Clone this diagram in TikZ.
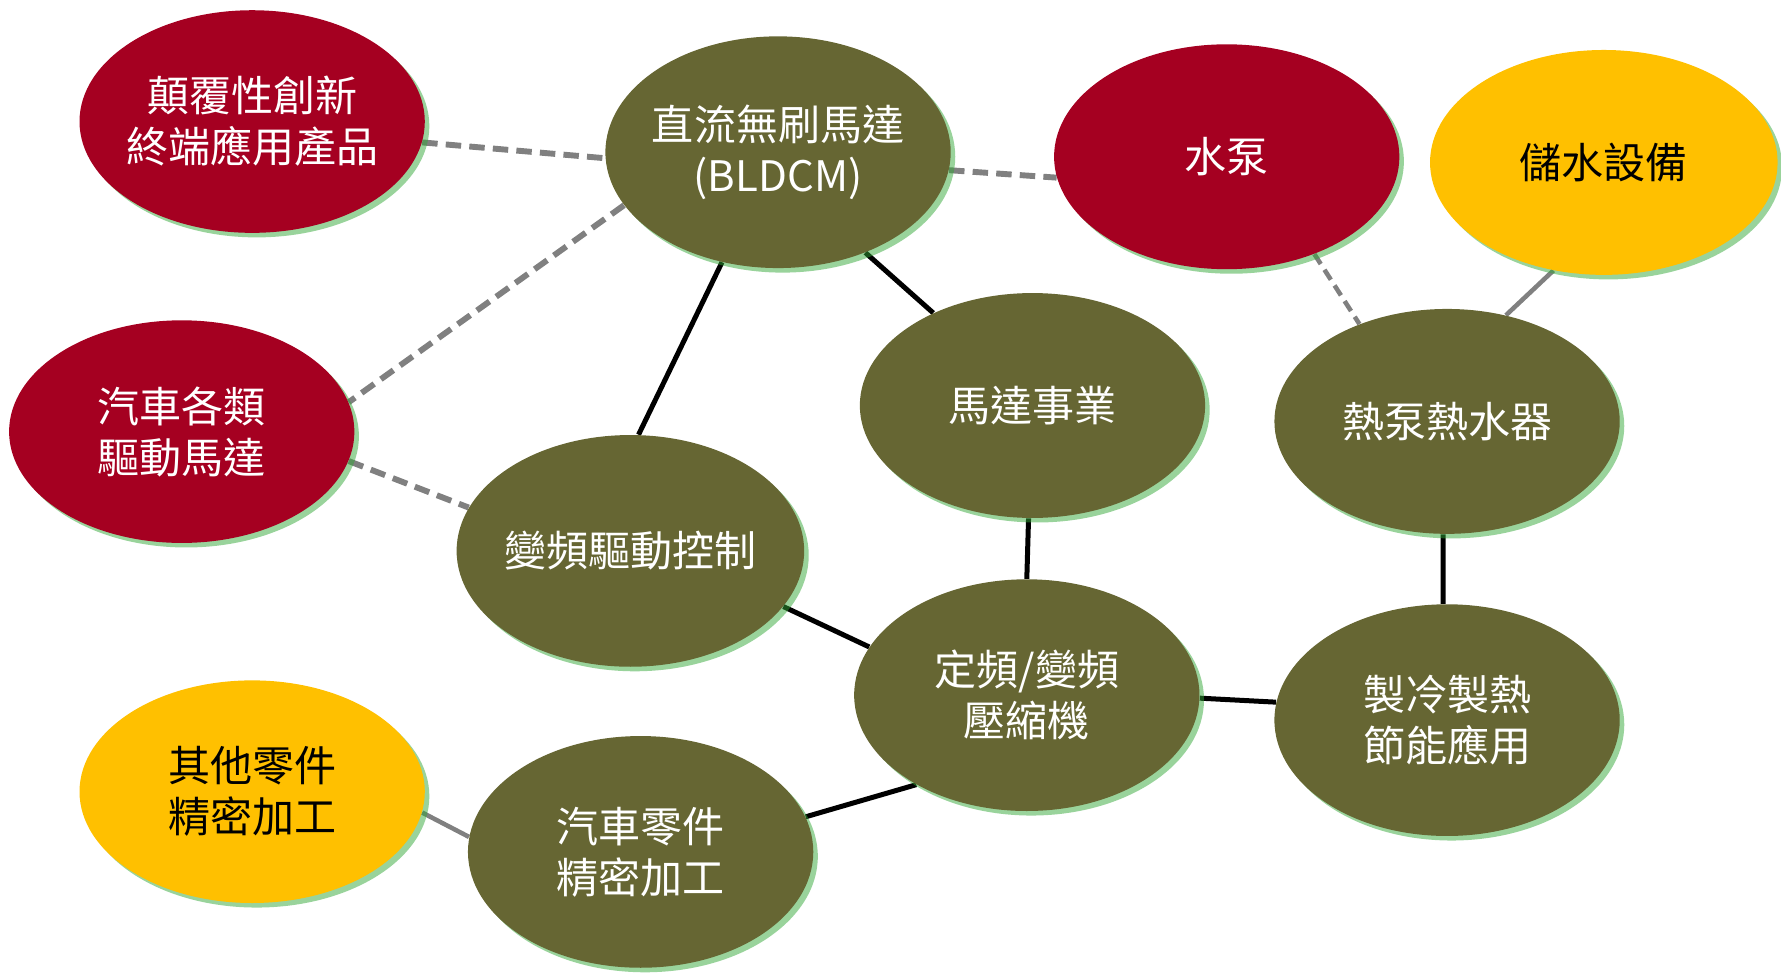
\documentclass[tikz,border=0pt]{standalone}
\usepackage{fontspec}
\newfontfamily\cjk{Noto Sans CJK TC}
\usetikzlibrary{shapes.geometric,shadows}
\definecolor{nred}{RGB}{165,0,33}
\definecolor{nolive}{RGB}{102,102,51}
\definecolor{nyellow}{RGB}{255,192,0}
\definecolor{shgreen}{RGB}{51,167,55}
\definecolor{lgray}{RGB}{128,128,128}
\pgfdeclarelayer{background}
\pgfsetlayers{background,main}
\tikzset{
  bub/.style={ellipse, minimum width=304*0.5pt, minimum height=200*0.5pt, inner sep=0pt,
    drop shadow={shadow xshift=2pt, shadow yshift=-2pt, fill=shgreen, opacity=0.5}},
  labw/.style={align=center, inner sep=0pt, text=white, font=\cjk\fontsize{18.5pt}{22.5pt}\selectfont},
  labk/.style={labw, text=black},
  redb/.style={bub, fill=nred},
  oliveb/.style={bub, fill=nolive},
  yellowb/.style={bub, fill=nyellow},
  dashlink/.style={draw=lgray, line width=2.6pt, dash pattern=on 6.8pt off 3.6pt},
  thindash/.style={draw=lgray, line width=2pt, dash pattern=on 5.2pt off 3pt},
  greylink/.style={draw=lgray, line width=2pt},
  blacklink/.style={draw=black, line width=2.2pt},
}
\begin{document}
\begin{tikzpicture}[x=0.5pt,y=-0.5pt]
\useasboundingbox (0,0) rectangle (1568,857);
\node[redb, minimum height=196*0.5pt, label={[labw]center:顛覆性創新\\終端應用產品}] (disr) at (222,107) {};
\node[oliveb, minimum height=204*0.5pt, label={[labw]center:直流無刷馬達\\(BLDCM)}] (bldc) at (685,134) {};
\node[redb, minimum height=198*0.5pt, label={[labw]center:水泵}] (pump) at (1080,138) {};
\node[yellowb, minimum width=306*0.5pt, minimum height=198*0.5pt, label={[labk]center:儲水設備}] (tank) at (1412,143) {};
\node[redb, minimum height=196*0.5pt, label={[labw]center:汽車各類\\驅動馬達}] (carm) at (160,380) {};
\node[oliveb, minimum height=198*0.5pt, label={[labw]center:馬達事業}] (motor) at (909,357) {};
\node[oliveb, minimum height=198*0.5pt, label={[labw]center:熱泵熱水器}] (heat) at (1274,371) {};
\node[oliveb, minimum width=306*0.5pt, minimum height=204*0.5pt, label={[labw]center:變頻驅動控制}] (vfd) at (555,485) {};
\node[oliveb, minimum height=204*0.5pt, label={[labw]center:定頻/變頻\\壓縮機}] (comp) at (904,612) {};
\node[oliveb, minimum height=204*0.5pt, label={[labw]center:製冷製熱\\節能應用}] (cool) at (1274,634) {};
\node[yellowb, minimum height=196*0.5pt, label={[labk]center:其他零件\\精密加工}] (other) at (222,697) {};
\node[oliveb, minimum height=204*0.5pt, label={[labw]center:汽車零件\\精密加工}] (carp) at (564,750) {};
\begin{pgfonlayer}{background}
\draw[dashlink] (disr.-7) -- (bldc.182);
\draw[dashlink] (bldc.-6) -- (pump.187);
\draw[dashlink] (bldc.199) -- (carm.10);
\draw[dashlink] (carm.-10) -- (vfd.165);
\draw[thindash] (pump.-48) -- (heat.132);
\draw[greylink] (tank.245) -- (heat.61);
\draw[greylink] (other.-7) -- (carp.175);
\draw[blacklink] (bldc.243) -- (vfd.86);
\draw[blacklink] (bldc.-49) -- (motor.137);
\draw[blacklink] (motor.268) -- (comp.90);
\draw[blacklink] (vfd.-20) -- (comp.163);
\draw[blacklink] (comp.-1) -- (cool.174);
\draw[blacklink] (heat.268) -- (cool.92);
\draw[blacklink] (carp.12) -- (comp.219);
\end{pgfonlayer}
\end{tikzpicture}
\end{document}
